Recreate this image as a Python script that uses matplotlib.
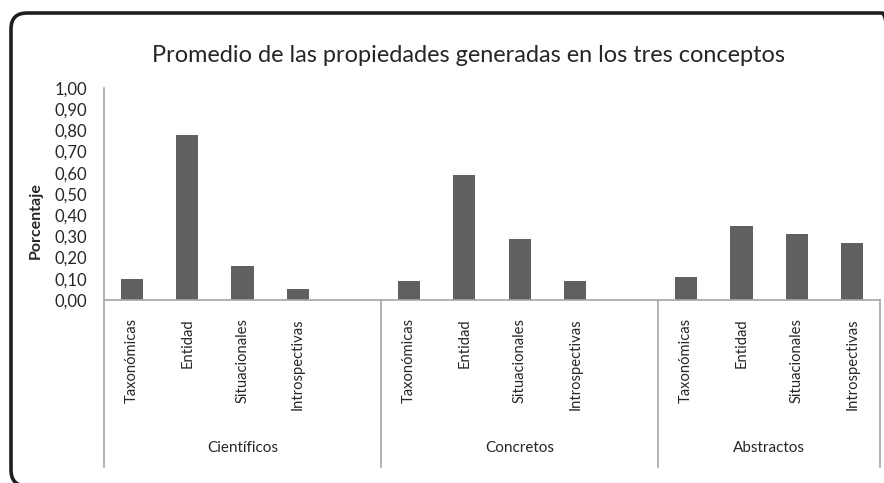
import matplotlib
matplotlib.use("Agg")
import matplotlib.pyplot as plt
import matplotlib.transforms as mtransforms
from matplotlib.patches import FancyBboxPatch

# data
groups = ["Científicos", "Concretos", "Abstractos"]
categories = ["Taxonómicas", "Entidad", "Situacionales", "Introspectivas"]
cientificos = [0.10, 0.78, 0.16, 0.05]
concretos = [0.09, 0.59, 0.29, 0.09]
abstractos = [0.11, 0.35, 0.31, 0.27]
yticks = [0.0, 0.1, 0.2, 0.3, 0.4, 0.5, 0.6, 0.7, 0.8, 0.9, 1.0]

title = "Promedio de las propiedades generadas en los tres conceptos"
ylabel = "Porcentaje"

plt.rcParams['font.family'] = ['Lato', 'DejaVu Sans']

bar_color = "#606060"
axis_color = "#a6a6a6"
text_color = "#262626"

W, H = 884, 483
fig = plt.figure(figsize=(W / 100, H / 100), dpi=100)

# axes placed in pixel terms: y axis at x=104, right end x=880, baseline y=300, 1.0 at y=88
left, right, base, top = 104, 880, 300, 88
ax = fig.add_axes([left / W, 1 - base / H, (right - left) / W, (base - top) / H])

# 5 slots per group for the first two groups, 4 for the last (as in the source)
series = [cientificos, concretos, abstractos]
starts = [0, 5, 10]
xpos, heights, labels = [], [], []
for s, vals in zip(starts, series):
    for i, v in enumerate(vals):
        xpos.append(s + i)
        heights.append(v)
        labels.append(categories[i])

ax.bar(xpos, heights, width=0.4, color=bar_color)
ax.set_xlim(-0.5, 13.5)
ax.set_ylim(0, 1.0)

ax.set_yticks(yticks)
ax.set_yticklabels([f"{t:.2f}".replace(".", ",") for t in yticks], fontsize=12, color=text_color)
ax.tick_params(axis="y", length=0, pad=12)

ax.set_xticks(xpos)
ax.set_xticklabels(labels, rotation=90, fontsize=10.6, color=text_color)
ax.tick_params(axis="x", length=0, pad=13)

for side in ["top", "right"]:
    ax.spines[side].set_visible(False)
for side in ["left", "bottom"]:
    ax.spines[side].set_color(axis_color)
    ax.spines[side].set_linewidth(1.2)

# group separators running under the axis
trans = mtransforms.blended_transform_factory(ax.transData, ax.transAxes)
sep_bottom = -(467 - base) / (base - top)
for xs in [-0.5, 4.5, 9.5, 13.5]:
    ax.plot([xs, xs], [0, sep_bottom], color=axis_color, lw=1.2,
            transform=trans, clip_on=False)

group_edges = [(-0.5, 4.5), (4.5, 9.5), (9.5, 13.5)]
label_y = -(448 - base) / (base - top)
for g, (a, b) in zip(groups, group_edges):
    ax.text((a + b) / 2, label_y, g, transform=trans, ha="center", va="center",
            fontsize=11, color=text_color)

fig.text(468 / W, 1 - 55 / H, title, ha="center", va="center",
         fontsize=16.9, color=text_color)
fig.text(36 / W, 1 - 221 / H, ylabel, ha="center", va="center", rotation=90,
         fontsize=11.5, fontweight="bold", color=text_color)

# rounded outer frame, partly cut by the image edge
frame = FancyBboxPatch((11, -3), 887, H - 13 + 3,
                       boxstyle="round,pad=0,rounding_size=16",
                       fill=False, edgecolor="#1e1e1e", linewidth=2.6,
                       transform=None)
fig.patches.append(frame)

fig.savefig("out.png", dpi=100)
